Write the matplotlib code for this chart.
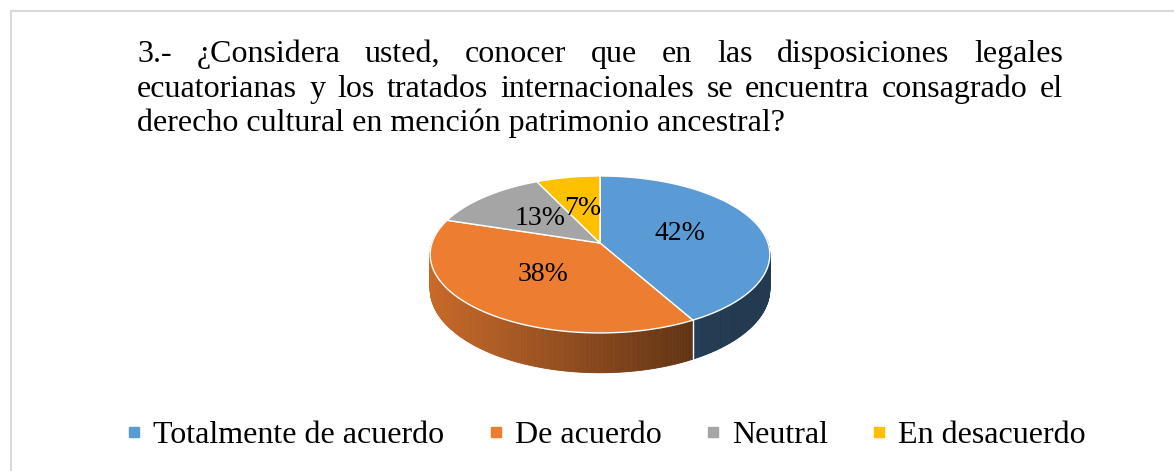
import numpy as np
import matplotlib.pyplot as plt
from matplotlib.patches import Polygon
from matplotlib.lines import Line2D

plt.rcParams["font.family"] = ["Liberation Serif", "DejaVu Serif"]

# -----------------------------
# Data
# -----------------------------
categories = ["Totalmente de acuerdo", "De acuerdo", "Neutral", "En desacuerdo"]
shares = [42, 38, 13, 7]
colors = ["#5B9BD5", "#ED7D31", "#A5A5A5", "#FFC000"]

title_lines = [
    "3.- ¿Considera usted, conocer que en las disposiciones legales",
    "ecuatorianas y los tratados internacionales se encuentra consagrado el",
    "derecho cultural en mención patrimonio ancestral?",
]

# -----------------------------
# Canvas (1 data unit = 1 pixel)
# -----------------------------
W, H = 1174, 471
fig = plt.figure(figsize=(W / 100, H / 100), dpi=100)
ax = fig.add_axes([0, 0, 1, 1])
ax.set_xlim(0, W)
ax.set_ylim(H, 0)
ax.axis("off")

# chart area border (only top/left visible in the crop)
ax.plot([11, 11, W + 5], [H + 5, 11, 11], color="#d9d9d9", lw=1.5)

# -----------------------------
# Title, justified like the Word original
# -----------------------------
renderer = fig.canvas.get_renderer()
title_fs = 23
x_left, x_right = 137, 1063
baselines = [62, 97, 131]


def justify(line, y, x0, x1):
    words = line.split()
    texts = [ax.text(0, y, w, fontsize=title_fs, va="baseline") for w in words]
    widths = [t.get_window_extent(renderer).width for t in texts]
    gap = (x1 - x0 - sum(widths)) / (len(words) - 1)
    x = x0
    for t, w in zip(texts, widths):
        t.set_x(x)
        x += w + gap


justify(title_lines[0], baselines[0], x_left, x_right)
justify(title_lines[1], baselines[1], x_left, x_right)
ax.text(x_left, baselines[2], title_lines[2], fontsize=title_fs, va="baseline")

# -----------------------------
# 3D pie (perspective ellipse)
# -----------------------------
cx, cy = 600, 243
rx, ry = 168, 76.8
k = 0.146
thick = 34


def proj(ang, r=1.0, z=0.0):
    a = np.radians(ang)
    X = r * np.cos(a)
    D = r * np.sin(a)
    f = 1 / (1 + k * D)
    return cx + rx * X * f, cy - ry * D * f + z * f


def shade(x):
    u = (x - (cx - rx)) / (2 * rx)
    return np.clip(0.84 - 0.56 * u, 0.38, 1.0)


fracs = np.array(shares) / sum(shares)
bounds = 90 - 360 * np.concatenate([[0], np.cumsum(fracs)])

# side walls (front half only)
for i, c in enumerate(colors):
    a0, a1 = bounds[i], bounds[i + 1]
    hi, lo = min(a0, 5), max(a1, -185)
    if hi <= lo:
        continue
    base = np.array(plt.matplotlib.colors.to_rgb(c))
    steps = np.linspace(hi, lo, int((hi - lo) / 0.5) + 2)
    for t0, t1 in zip(steps[:-1], steps[1:]):
        p = [proj(t0), proj(t1), proj(t1, z=thick), proj(t0, z=thick)]
        xm = (p[0][0] + p[1][0]) / 2
        col = base * shade(xm)
        ax.add_patch(Polygon(p, closed=True, facecolor=col, edgecolor=col, lw=0.6))

# white seams where slices meet on the wall
for b in bounds:
    if -185 < b < 5:
        x0, y0 = proj(b)
        x1, y1 = proj(b, z=thick)
        ax.plot([x0, x1], [y0, y1], color="white", lw=1)

# top faces
for i, c in enumerate(colors):
    arc = np.linspace(bounds[i], bounds[i + 1], 120)
    pts = [(cx, cy)] + [proj(a) for a in arc]
    ax.add_patch(Polygon(pts, closed=True, facecolor=c, edgecolor="white", lw=1))

# data labels
for i, s in enumerate(shares):
    mid = (bounds[i] + bounds[i + 1]) / 2
    x, y = proj(mid, r=0.5)
    ax.text(x, y, f"{s}%", fontsize=20, ha="center", va="center")

# -----------------------------
# Legend
# -----------------------------
handles = [Line2D([], [], marker="s", ls="none", color=c, markersize=7.5) for c in colors]
fig.legend(
    handles, categories,
    loc="center",
    bbox_to_anchor=(606 / W, 1 - 435 / H),
    ncol=4,
    frameon=False,
    fontsize=23,
    handlelength=0.5,
    handletextpad=0.35,
    columnspacing=1.35,
)

fig.savefig("out.png", dpi=100)
